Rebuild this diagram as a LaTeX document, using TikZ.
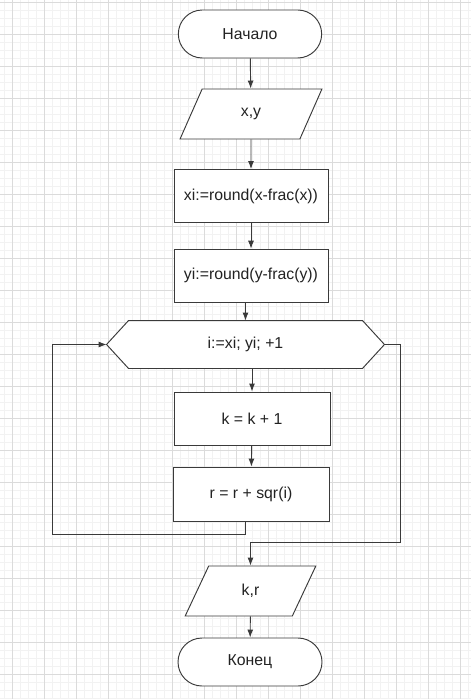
\documentclass[tikz,border=0pt]{standalone}
\usepackage{fontspec}
\setmainfont{Liberation Sans}
\usetikzlibrary{shapes.geometric,arrows.meta}
\definecolor{linegray}{HTML}{3A3A3A}
\definecolor{textgray}{HTML}{222222}
\begin{document}
\begin{tikzpicture}[
    box/.style={draw=linegray, line width=0.8pt, fill=white, text=textgray, align=center, font=\fontsize{13.5}{16}\selectfont, inner sep=2pt},
    term/.style={box, rectangle, rounded corners=0.72cm, minimum width=4.3cm, minimum height=1.44cm},
    io/.style={box, trapezium, trapezium left angle=71, trapezium right angle=109, trapezium stretches=true, minimum width=4.26cm, minimum height=1.5cm},
    proc/.style={box, rectangle, minimum width=4.62cm, minimum height=1.59cm},
    loophex/.style={box, rectangle, draw=none, fill=none, minimum width=8.31cm, minimum height=1.41cm},
    hexline/.style={draw=linegray, line width=0.8pt, fill=white},
    arrow/.style={-{Latex[length=2.4mm,width=1.8mm]}, draw=linegray, line width=0.8pt},
]

% background grid
\useasboundingbox (0,0) rectangle (14.13,-20.97);
\fill[white] (0,0) rectangle (14.13,-20.97);
\begin{scope}[shift={(0.36,-0.06)}]
\draw[black!5, line width=0.3pt, step=0.24cm] (-0.36,-20.91) grid (13.77,0.06);
\draw[black!14, line width=0.5pt, step=0.96cm] (-0.36,-20.91) grid (13.77,0.06);
\end{scope}

% flowchart
\node[term] (start) at (7.5,-1.02) {Начало};
\node[io] (inp) at (7.53,-3.42) {x,y};
\node[proc] (xi) at (7.53,-5.88) {xi:=round(x-frac(x))};
\node[proc] (yi) at (7.53,-8.27) {yi:=round(y-frac(y))};
\node[loophex] (hex) at (7.365,-10.335) {};
\draw[hexline] (hex.west) -- ([xshift=0.66cm]hex.north west) -- ([xshift=-0.66cm]hex.north east)
    -- (hex.east) -- ([xshift=-0.66cm]hex.south east) -- ([xshift=0.66cm]hex.south west) -- cycle;
\node[text=textgray, font=\fontsize{13.5}{16}\selectfont] (hextext) at (hex) {i:=xi; yi; +1};
\node[proc, minimum width=4.68cm] (k) at (7.56,-12.555) {k = k + 1};
\node[proc, minimum width=4.68cm, minimum height=1.62cm] (r) at (7.53,-14.82) {r = r + sqr(i)};
\node[io, minimum width=3.93cm] (out) at (7.515,-17.73) {k,r};
\node[term, minimum width=4.32cm] (end) at (7.5,-19.86) {Конец};

\coordinate (loopL) at (1.56,-16.02);
\coordinate (exitR) at (12,-16.26);

\draw[arrow] (start) -- (inp);
\draw[arrow] (inp) -- (xi);
\draw[arrow] (xi) -- (yi);
\draw[arrow] (yi.south -| hex) -- (hex);
\draw[arrow] (hex.south -| k) -- (k);
\draw[arrow] (k) -- (r);
\draw[arrow] (r.south -| hex) |- (loopL) |- (hex.west);
\draw[arrow] (hex.east) -| (exitR) -| (out.north);
\draw[arrow] (out) -- (end);

\end{tikzpicture}
\end{document}
